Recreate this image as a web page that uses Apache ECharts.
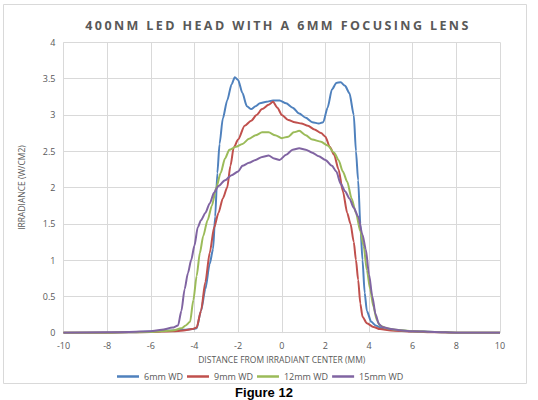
<!DOCTYPE html>
<html>
<head>
<meta charset="utf-8">
<title>400NM LED HEAD WITH A 6MM FOCUSING LENS</title>
<script src="https://cdn.jsdelivr.net/npm/echarts@6.0.0/dist/echarts.min.js"></script>
<style>
  html, body { margin: 0; padding: 0; background: #fff; }
  #chart { width: 538px; height: 400px; }
  /* the title is spaced out like the Excel original */
  #chart text[fill="#595958"] { letter-spacing: 2.4px; }
</style>
</head>
<body>
<div id="chart"></div>
<script>
'use strict';

var chartTitle = "400NM LED HEAD WITH A 6MM FOCUSING LENS";
var xName = "DISTANCE FROM IRRADIANT CENTER (MM)";
var yName = "IRRADIANCE (W/CM2)";
var seriesNames = ["6mm WD", "9mm WD", "12mm WD", "15mm WD"];
var seriesColors = ["#4f81bd", "#c0504d", "#9bbb59", "#8064a2"];

// [distance (mm), irradiance (W/cm2)]
var wd6 = [[-10,0],[-8,0],[-7,0.005],[-6,0.015],[-5,0.03],[-4.5,0.04],[-4.1,0.05],[-3.9,0.06],
  [-3.7,0.3],[-3.5,0.6],[-3.3,0.95],[-3.15,1.15],[-3.05,1.6],[-2.95,2.2],[-2.85,2.6],[-2.7,2.95],
  [-2.5,3.2],[-2.3,3.42],[-2.15,3.52],[-2.0,3.48],[-1.8,3.3],[-1.6,3.12],[-1.4,3.08],[-1.2,3.12],
  [-1.0,3.16],[-0.7,3.18],[-0.4,3.2],[-0.1,3.2],[0.2,3.16],[0.5,3.1],[0.8,3.02],[1.1,2.96],
  [1.4,2.9],[1.7,2.88],[1.9,2.9],[2.1,3.1],[2.3,3.35],[2.5,3.44],[2.7,3.45],[2.9,3.4],
  [3.1,3.3],[3.3,3.0],[3.4,2.5],[3.5,2.1],[3.6,1.5],[3.7,1.0],[3.8,0.55],[3.9,0.3],
  [4.1,0.15],[4.3,0.1],[4.6,0.06],[5,0.04],[5.5,0.03],[6,0.02],[7,0.01],[8,0],[10,0]];

var wd9 = [[-10,0],[-8,0],[-7,0.005],[-6,0.01],[-5,0.02],[-4.5,0.03],[-4.1,0.05],[-3.9,0.07],
  [-3.7,0.3],[-3.5,0.7],[-3.3,1.1],[-3.1,1.45],[-2.9,1.65],[-2.7,1.85],[-2.5,2.0],[-2.35,2.3],
  [-2.2,2.55],[-2.0,2.66],[-1.7,2.85],[-1.4,2.92],[-1.15,3.0],[-0.9,3.08],[-0.6,3.14],[-0.4,3.18],
  [-0.2,3.1],[0,3.0],[0.3,2.93],[0.6,2.9],[0.9,2.88],[1.2,2.85],[1.5,2.8],[1.8,2.75],
  [2.0,2.7],[2.2,2.56],[2.4,2.45],[2.6,2.25],[2.8,1.95],[3.0,1.65],[3.15,1.5],[3.3,1.25],
  [3.4,1.0],[3.5,0.73],[3.6,0.4],[3.7,0.22],[3.9,0.13],[4.2,0.08],[4.5,0.05],[5,0.03],
  [6,0.015],[7,0.005],[8,0],[10,0]];

var wd12 = [[-10,0],[-8,0],[-7,0.005],[-6,0.01],[-5,0.03],[-4.6,0.06],[-4.4,0.1],[-4.2,0.15],
  [-4.05,0.45],[-3.9,0.78],[-3.75,1.1],[-3.6,1.33],[-3.4,1.55],[-3.2,1.75],[-3.0,2.0],[-2.8,2.2],
  [-2.6,2.4],[-2.4,2.52],[-2.1,2.56],[-1.8,2.6],[-1.5,2.67],[-1.2,2.72],[-0.9,2.76],[-0.6,2.76],
  [-0.3,2.72],[0,2.68],[0.3,2.7],[0.55,2.76],[0.8,2.78],[1.1,2.72],[1.4,2.66],[1.8,2.63],
  [2.1,2.58],[2.4,2.48],[2.6,2.38],[2.8,2.22],[3.0,2.08],[3.2,1.85],[3.4,1.65],[3.6,1.4],
  [3.75,1.2],[3.9,0.86],[4.05,0.6],[4.2,0.36],[4.35,0.18],[4.5,0.1],[4.8,0.06],[5.2,0.04],
  [6,0.02],[7,0.01],[8,0],[10,0]];

var wd15 = [[-10,0],[-8,0.005],[-7,0.01],[-6,0.02],[-5.5,0.04],[-5,0.07],[-4.75,0.1],[-4.6,0.3],
  [-4.45,0.6],[-4.3,0.82],[-4.15,1.0],[-4.0,1.2],[-3.85,1.45],[-3.7,1.55],[-3.5,1.65],[-3.3,1.78],
  [-3.1,1.93],[-2.9,2.02],[-2.6,2.1],[-2.3,2.17],[-2.0,2.22],[-1.8,2.3],[-1.5,2.34],[-1.2,2.38],
  [-0.9,2.42],[-0.6,2.44],[-0.35,2.4],[-0.1,2.38],[0.2,2.45],[0.5,2.52],[0.8,2.54],[1.1,2.52],
  [1.4,2.48],[1.7,2.43],[2.0,2.38],[2.3,2.3],[2.5,2.22],[2.7,2.05],[2.9,1.95],[3.1,1.85],
  [3.3,1.72],[3.5,1.6],[3.7,1.35],[3.85,1.15],[4.0,0.8],[4.15,0.5],[4.3,0.25],[4.45,0.12],
  [4.6,0.08],[5,0.05],[5.5,0.03],[6,0.02],[7,0.01],[8,0],[10,0]];

var seriesData = [wd6, wd9, wd12, wd15];

var gray = "#595959";
var gridColor = "#d9d9d9";
var font = "Open Sans";

var chart = echarts.init(document.getElementById("chart"), null, { renderer: "svg" });

var series = seriesNames.map(function (name, i) {
  return {
    name: name,
    type: "line",
    data: seriesData[i],
    smooth: 0.25,
    smoothMonotone: "x",
    showSymbol: false,
    lineStyle: { width: 2, color: seriesColors[i] },
    itemStyle: { color: seriesColors[i] }
  };
});

var option = {
  animation: false,
  backgroundColor: "#fff",
  grid: { left: 63.5, right: 38, top: 42.3, bottom: 67.3 },
  legend: {
    data: seriesNames,
    left: 112,
    top: 367,
    itemWidth: 22,
    itemHeight: 2.5,
    itemGap: 4,
    icon: "rect",
    textStyle: { color: gray, fontSize: 9, fontFamily: font }
  },
  xAxis: {
    type: "value",
    min: -10,
    max: 10,
    interval: 2,
    name: xName,
    nameLocation: "middle",
    nameGap: 22,
    nameTextStyle: { color: gray, fontSize: 8.5, fontFamily: font },
    axisLine: { show: true, onZero: false, lineStyle: { color: gridColor, width: 1 } },
    axisTick: { show: false },
    axisLabel: { color: gray, fontSize: 9, fontFamily: font, margin: 8 },
    splitLine: { show: true, lineStyle: { color: gridColor, width: 1 } }
  },
  yAxis: {
    type: "value",
    min: 0,
    max: 4,
    interval: 0.5,
    name: yName,
    nameLocation: "middle",
    nameGap: 38,
    nameTextStyle: { color: gray, fontSize: 8.5, fontFamily: font },
    axisLine: { show: true, lineStyle: { color: gridColor, width: 1 } },
    axisTick: { show: false },
    axisLabel: { color: gray, fontSize: 9, fontFamily: font, margin: 8 },
    splitLine: { show: true, lineStyle: { color: gridColor, width: 1 } }
  },
  graphic: [
    {
      type: "rect",
      silent: true,
      shape: { x: 3.5, y: 4.5, width: 523, height: 379 },
      style: { fill: null, stroke: gridColor, lineWidth: 1 }
    },
    {
      type: "text",
      silent: true,
      x: 278,
      y: 25,
      style: {
        text: chartTitle,
        fill: "#595958",
        font: "bold 12.5px 'Open Sans'",
        align: "center",
        verticalAlign: "middle"
      }
    },
    {
      type: "text",
      silent: true,
      x: 264,
      y: 392,
      style: {
        text: "Figure 12",
        fill: "#000",
        font: "bold 13px 'Liberation Sans'",
        align: "center",
        verticalAlign: "middle"
      }
    }
  ],
  series: series
};

chart.setOption(option);
</script>
</body>
</html>
